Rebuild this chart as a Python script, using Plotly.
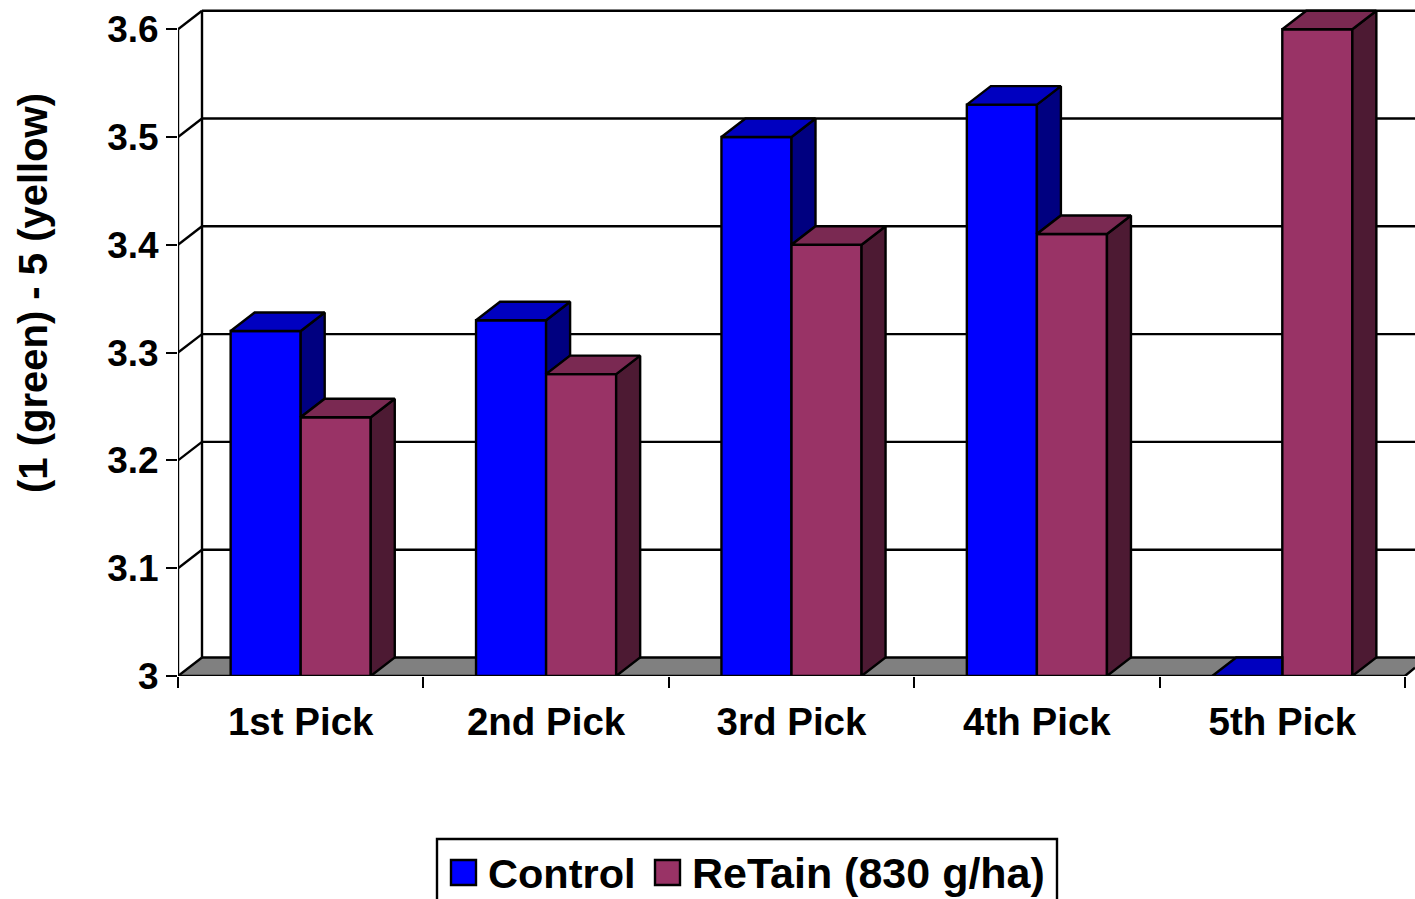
import plotly.graph_objects as go

categories = ["1st Pick", "2nd Pick", "3rd Pick", "4th Pick", "5th Pick"]
control = [3.32, 3.33, 3.50, 3.53, 3.00]
retain = [3.24, 3.28, 3.40, 3.41, 3.60]
y_ticks = [3.0, 3.1, 3.2, 3.3, 3.4, 3.5, 3.6]
y_labels = ["3", "3.1", "3.2", "3.3", "3.4", "3.5", "3.6"]
names = ["Control", "ReTain (830 g/ha)"]
y_title = "(1 (green) - 5 (yellow)"

W, H = 1415, 899
LEFT, BOTTOM, CAT_PX, UNIT_PX = 178, 676, 245.4, 1078
DX, DY = 24 / CAT_PX, 18.5 / UNIT_PX
BAR_W = 0.2855
LW = 2.4
FONT = "Liberation Sans, Arial, sans-serif"
INK = "#000000"
BLUE = ("#0000FF", "#0000C0", "#000080")
WINE = ("#993366", "#7A2952", "#4D1A33")

xs = [i + 0.5 for i in range(len(categories))]
X_MAX = (W - LEFT) / CAT_PX
Y_BASE, Y_TOP = y_ticks[0], y_ticks[-1]
Y_MAX = Y_BASE + BOTTOM / UNIT_PX


def px(x):
    return x / W


def py(y):
    return 1 - y / H


def bold(size):
    return dict(family=FONT, size=size, color=INK, weight="bold")


def poly(xv, yv, color):
    return go.Scatter(x=xv + xv[:1], y=yv + yv[:1], mode="lines", fill="toself",
                      fillcolor=color, line=dict(color=INK, width=LW),
                      hoverinfo="skip", showlegend=False)


fig = go.Figure()
for name, vals, pal in zip(names, (control, retain), (BLUE, WINE)):
    fig.add_trace(go.Bar(x=xs, y=[v - Y_BASE for v in vals], base=Y_BASE, name=name,
                         marker=dict(color=pal[0], line=dict(color=INK, width=LW)),
                         showlegend=False))

for c, vb, vr in zip(xs, control, retain):
    x0, x1, x2 = c - BAR_W, c, c + BAR_W
    if vb > vr:
        fig.add_trace(poly([x1, x1 + DX, x1 + DX, x1],
                           [vr, vr + DY, vb + DY, vb], BLUE[2]))
        fig.add_trace(poly([x0, x1, x1 + DX, x0 + DX],
                           [vb, vb, vb + DY, vb + DY], BLUE[1]))
    else:
        fig.add_trace(poly([x0, x1, x1, x0 + DX],
                           [vb, vb, vb + DY, vb + DY], BLUE[1]))
    fig.add_trace(poly([x2, x2 + DX, x2 + DX, x2],
                       [Y_BASE, Y_BASE + DY, vr + DY, vr], WINE[2]))
    fig.add_trace(poly([x1, x2, x2 + DX, x1 + DX],
                       [vr, vr, vr + DY, vr + DY], WINE[1]))

shapes = []
line = dict(color=INK, width=LW)
n = len(categories)
shapes.append(dict(type="path", layer="below", xref="x", yref="y",
                   path=f"M0,{Y_BASE} L{DX},{Y_BASE + DY} L{X_MAX},{Y_BASE + DY} "
                        f"L{X_MAX},{Y_BASE + DY * 0.45} L{n},{Y_BASE} Z",
                   fillcolor="#808080", line=dict(width=0)))
for t in y_ticks:
    shapes.append(dict(type="line", layer="below", xref="x", yref="y", x0=DX, x1=X_MAX,
                       y0=t + DY, y1=t + DY, line=line))
    shapes.append(dict(type="line", layer="below", xref="x", yref="y", x0=0, x1=DX,
                       y0=t, y1=t + DY, line=line))
shapes.append(dict(type="line", layer="below", xref="x", yref="y", x0=0, x1=0,
                   y0=Y_BASE, y1=Y_TOP, line=line))
shapes.append(dict(type="line", layer="below", xref="x", yref="y", x0=DX, x1=DX,
                   y0=Y_BASE + DY, y1=Y_TOP + DY, line=line))
shapes.append(dict(type="line", layer="below", xref="x", yref="y", x0=0, x1=n,
                   y0=Y_BASE, y1=Y_BASE, line=line))
shapes.append(dict(type="line", layer="below", xref="x", yref="y", x0=n, x1=X_MAX,
                   y0=Y_BASE, y1=Y_BASE + DY * 0.45, line=line))
shapes.append(dict(type="rect", xref="paper", yref="paper", x0=px(437), x1=px(1057),
                   y0=py(930), y1=py(839), line=line, fillcolor="rgba(0,0,0,0)"))
for sx, col in ((451, BLUE[0]), (655, WINE[0])):
    shapes.append(dict(type="rect", xref="paper", yref="paper", x0=px(sx), x1=px(sx + 25),
                       y0=py(885), y1=py(860), line=line, fillcolor=col))

annotations = [
    dict(text=names[0], x=px(486), y=py(873), xref="paper", yref="paper", xanchor="left",
         yanchor="middle", showarrow=False, font=bold(41.5)),
    dict(text=names[1], x=px(690), y=py(873), xref="paper", yref="paper", xanchor="left",
         yanchor="middle", showarrow=False, font=bold(43)),
    dict(text=y_title, x=px(33), y=py(293), xref="paper", yref="paper", xanchor="center",
         yanchor="middle", textangle=-90, showarrow=False, font=bold(40)),
]

fig.update_layout(
    width=W, height=H, autosize=False,
    margin=dict(l=0, r=0, t=0, b=0, pad=0, autoexpand=False),
    paper_bgcolor="white", plot_bgcolor="rgba(0,0,0,0)",
    barmode="group", bargap=1 - 2 * BAR_W, bargroupgap=0,
    shapes=shapes, annotations=annotations, showlegend=False,
    font=dict(family=FONT, color=INK),
    xaxis=dict(domain=[px(LEFT), 1], range=[0, X_MAX], showgrid=False, zeroline=False,
               showline=False, tickmode="array", tickvals=xs, ticktext=categories,
               ticks="outside", ticklen=12, tickcolor="rgba(0,0,0,0)", tickwidth=1,
               tickfont=bold(38.5),
               minor=dict(tickmode="array", tickvals=list(range(n + 1)), ticks="outside",
                          ticklen=11, tickwidth=LW, tickcolor=INK, showgrid=False)),
    yaxis=dict(domain=[py(BOTTOM), 1], range=[Y_BASE, Y_MAX], showgrid=False, zeroline=False,
               showline=False, tickmode="array", tickvals=y_ticks, ticktext=y_labels,
               ticks="outside", ticklen=11, tickwidth=LW, tickcolor=INK,
               tickfont=bold(37)),
)

fig.write_html("out.html", config=dict(displayModeBar=False),
               post_script="document.body.style.margin='0';document.documentElement.style.overflow='hidden';")
